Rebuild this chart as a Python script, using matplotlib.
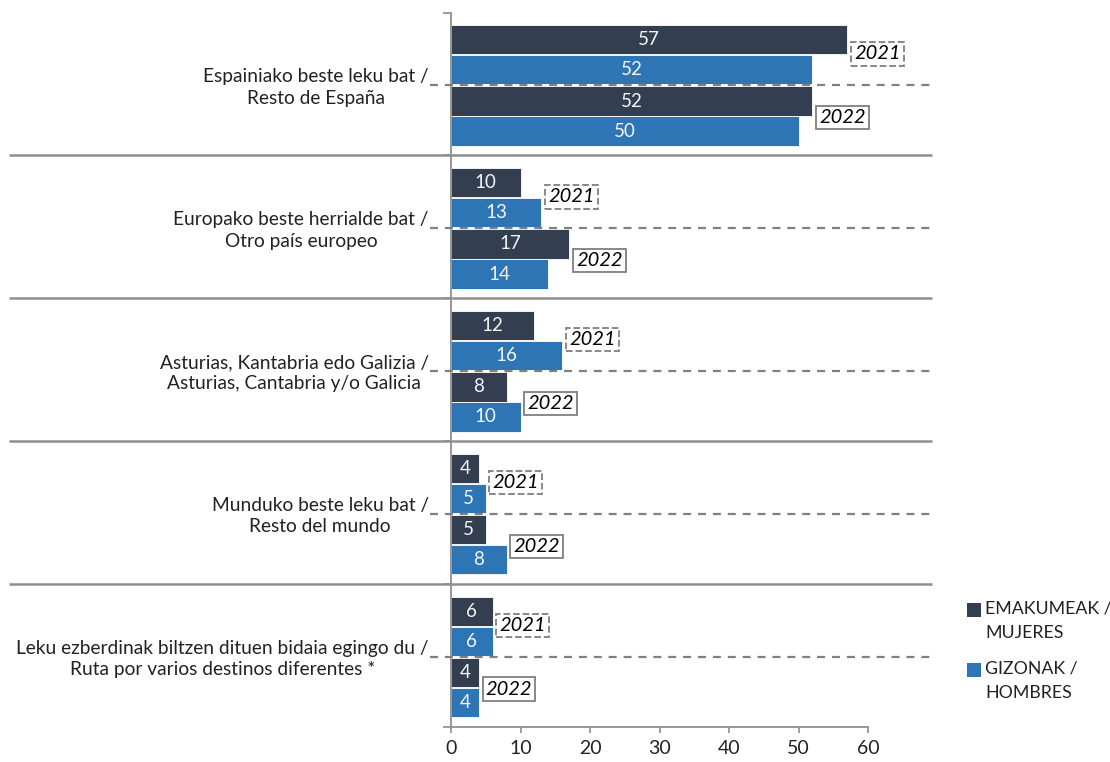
import matplotlib
matplotlib.use('Agg')
import matplotlib.pyplot as plt
import matplotlib.transforms as mtransforms
from matplotlib.patches import Rectangle

# ---------------- data ----------------
categories = [
    "Espainiako beste leku bat /\nResto de España",
    "Europako beste herrialde bat /\nOtro país europeo",
    "Asturias, Kantabria edo Galizia /\nAsturias, Cantabria y/o Galicia",
    "Munduko beste leku bat /\nResto del mundo",
    "Leku ezberdinak biltzen dituen bidaia egingo du /\nRuta por varios destinos diferentes *",
]
years = ["2021", "2022"]
series_names = ["EMAKUMEAK /\nMUJERES", "GIZONAK /\nHOMBRES"]
mujeres_2021 = [57, 10, 12, 4, 6]
hombres_2021 = [52, 13, 16, 5, 6]
mujeres_2022 = [52, 17, 8, 5, 4]
hombres_2022 = [50, 14, 10, 8, 4]
xticks = [0, 10, 20, 30, 40, 50, 60]

# ---------------- style ----------------
FONT = ['Lato', 'DejaVu Sans']
plt.rcParams['font.family'] = FONT
C_DARK = '#333F50'
C_BLUE = '#2E75B6'
C_GRID = '#8f8f8f'

W, H = 1110, 762
fig = plt.figure(figsize=(W / 100, H / 100), dpi=100)
ax = fig.add_axes([451 / W, (H - 727) / H, (868 - 451) / W, (727 - 12.5) / H])

n = len(categories)
offsets = [0.19, 0.40, 0.62, 0.83]
bar_h = 0.205
series_vals = [mujeres_2021, hombres_2021, mujeres_2022, hombres_2022]
series_cols = [C_DARK, C_BLUE, C_DARK, C_BLUE]

for vals, off, col in zip(series_vals, offsets, series_cols):
    ys = [i + off for i in range(n)]
    bars = ax.barh(ys, vals, height=bar_h, color=col, edgecolor='white', linewidth=0.6)
    for b, v in zip(bars, vals):
        ax.text(v / 2, b.get_y() + b.get_height() / 2, f"{v}", ha='center', va='center',
                color='#f4f4f4', fontsize=13.5, family=FONT)

# year labels
year_pos = [0.29, 0.735]
pairs = [(mujeres_2021, hombres_2021), (mujeres_2022, hombres_2022)]
for yi, (yr, (a, b)) in enumerate(zip(years, pairs)):
    for i in range(n):
        xm = max(a[i], b[i])
        ax.text(xm + 1.0, i + year_pos[yi], yr, ha='left', va='center', fontsize=14.5,
                style='italic', color='black', family=FONT,
                bbox=dict(boxstyle='square,pad=0.16', fc='white', ec='#7f7f7f',
                          lw=1.3, ls='--' if yi == 0 else '-'))

ax.set_xlim(0, 60)
ax.set_ylim(n, 0)

# separators and dashed mid-lines
trans = mtransforms.blended_transform_factory(fig.transFigure, ax.transData)
for i in range(1, n):
    ax.plot([9 / W, 932 / W], [i, i], transform=trans, color=C_GRID, lw=1.8,
            clip_on=False, solid_capstyle='butt', zorder=1)
for i in range(n):
    ax.plot([430 / W, 932 / W], [i + 0.51, i + 0.51], transform=trans, color='#808080',
            lw=1.6, ls=(0, (3.6, 3.1)), clip_on=False, zorder=3)

# spines / ticks
for s in ['top', 'right']:
    ax.spines[s].set_visible(False)
for s in ['left', 'bottom']:
    ax.spines[s].set_color(C_GRID)
    ax.spines[s].set_linewidth(1.3)

ax.set_xticks(xticks)
ax.set_xticklabels([str(t) for t in xticks], fontsize=14, color='#222222')
ax.tick_params(axis='x', direction='out', length=4, width=1.2, color=C_GRID, pad=5)

ax.set_yticks(list(range(n + 1)))
ax.set_yticklabels([])
ax.tick_params(axis='y', which='major', direction='out', length=6, width=1.2, color=C_GRID)
ax.set_yticks([i + 0.5 for i in range(n)], minor=True)
ax.set_yticklabels(categories, minor=True, fontsize=13.8, color='#222222')
ax.tick_params(axis='y', which='minor', length=0, pad=16)
for t in ax.get_yticklabels(minor=True):
    t.set_multialignment('center')
    t.set_linespacing(1.3)

# legend (manual)
leg_y = [610, 670]
for name, col, yy in zip(series_names, [C_DARK, C_BLUE], leg_y):
    fig.patches.append(Rectangle((967 / W, (H - yy - 7) / H), 14 / W, 14 / H,
                                 transform=fig.transFigure, facecolor=col, edgecolor='none'))
    fig.text(985 / W, (H - yy + 10) / H, name, ha='left', va='top', fontsize=12.8,
             color='#222222', linespacing=1.7, family=FONT)

fig.savefig('out.png', dpi=100)
